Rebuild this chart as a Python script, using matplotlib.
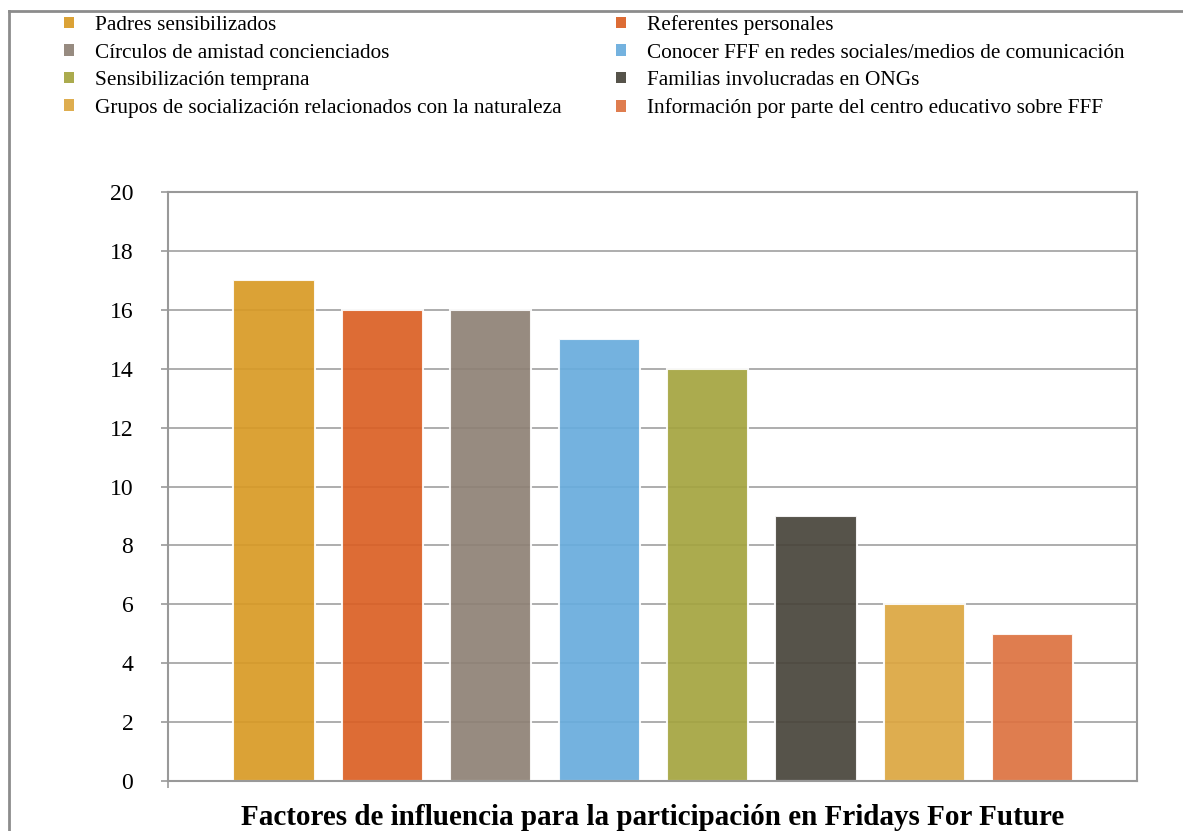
import matplotlib
matplotlib.use('Agg')
import matplotlib.pyplot as plt
from matplotlib.patches import Patch
from matplotlib.lines import Line2D

plt.rcParams['font.family'] = ['Liberation Serif', 'DejaVu Serif']

factores = [
    'Padres sensibilizados',
    'Referentes personales',
    'Círculos de amistad concienciados',
    'Conocer FFF en redes sociales/medios de comunicación',
    'Sensibilización temprana',
    'Familias involucradas en ONGs',
    'Grupos de socialización relacionados con la naturaleza',
    'Información por parte del centro educativo sobre FFF',
]
valores = [17, 16, 16, 15, 14, 9, 6, 5]
colores = ['#D89A25', '#DA5F24', '#8E8175', '#68ACDD',
           '#A4A43F', '#48443A', '#DCA640', '#DD7240']
titulo = 'Factores de influencia para la participación en Fridays For Future'

fig = plt.figure(figsize=(11.83, 8.31), dpi=100)
ax = fig.add_axes([0.142, 0.060, 0.819, 0.709])

x = range(len(valores))
ax.bar(x, valores, width=0.75, color=colores, edgecolor='white',
       linewidth=1.5, alpha=0.92, zorder=2)

ax.set_ylim(0, 20)
ax.set_xlim(-0.978, 7.96)
ax.set_yticks(range(0, 21, 2))
ax.yaxis.grid(True, color='#a0a0a0', linewidth=1.2, zorder=1)
ax.set_axisbelow(True)
ax.tick_params(axis='y', length=5, width=1.2, color='#999999',
               labelsize=17, pad=20)
ax.set_xticks([-0.978])
ax.set_xticklabels([''])
ax.tick_params(axis='x', length=5, width=1.2, color='#999999')
for s in ax.spines.values():
    s.set_color('#999999')
    s.set_linewidth(1.5)

ax.set_xlabel(titulo, fontsize=21, fontweight='bold', labelpad=8)

# leyenda en dos columnas
orden = [0, 2, 4, 6, 1, 3, 5, 7]
handles = [Patch(facecolor=colores[i], edgecolor='none', alpha=0.92) for i in orden]
labels = [factores[i] for i in orden]
fig.legend(handles, labels, ncol=2, loc='upper left',
           bbox_to_anchor=(0.047, 0.992), frameon=False, fontsize=15.3,
           borderaxespad=0, handlelength=0.47, handleheight=0.47,
           handletextpad=1.0, labelspacing=0.40, columnspacing=2.54)

# marco exterior
fig.add_artist(Line2D([0.0076, 1.0], [0.9868, 0.9868], color='#8c8c8c',
                      linewidth=2, transform=fig.transFigure))
fig.add_artist(Line2D([0.0076, 0.0076], [0.0, 0.9868], color='#8c8c8c',
                      linewidth=2, transform=fig.transFigure))

fig.savefig('out.png', dpi=100)
